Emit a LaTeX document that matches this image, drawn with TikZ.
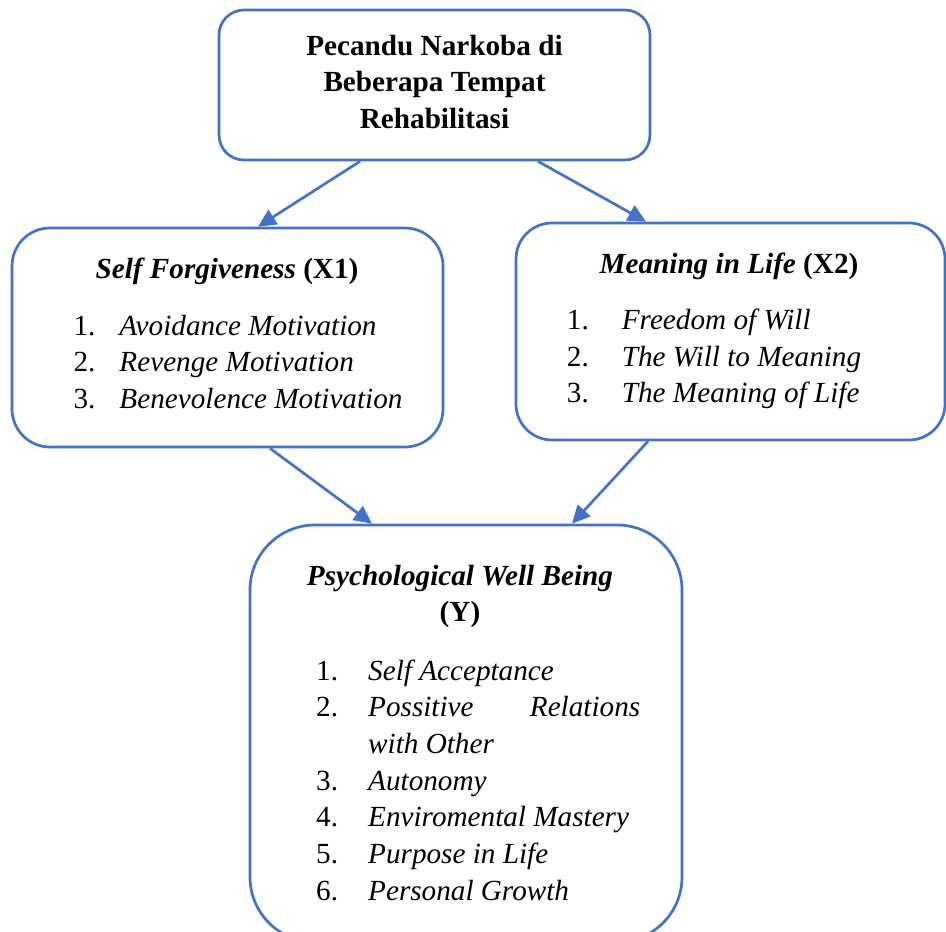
\documentclass[tikz,border=0pt]{standalone}
\usepackage{fontspec}
\setmainfont{Liberation Serif}
\usetikzlibrary{arrows.meta,positioning}
\definecolor{garisbiru}{HTML}{4472C4}

\begin{document}
\begin{tikzpicture}[x=1pt,y=1pt,
    kotak/.style={draw=garisbiru,line width=2.7pt,inner sep=0pt},
    panah/.style={draw=garisbiru,line width=2.7pt,-{Triangle[length=18pt,width=17pt]}},
    teks/.style={inner sep=0pt,font=\fontsize{29.2}{36.7}\selectfont}] %
    \useasboundingbox (0,0) rectangle (946,-932); %
    \node[kotak,minimum width=431pt,minimum height=150pt,rounded corners=25pt] (pecandu) at (434.5,-85) {} ; %
    \node[kotak,minimum width=431pt,minimum height=219pt,rounded corners=38pt] (forgive) at (227.5,-337.5) {} ; %
    \node[kotak,minimum width=429pt,minimum height=217pt,rounded corners=36pt] (meaning) at (730.5,-331.5) {} ; %
    \node[kotak,minimum width=432pt,minimum height=417pt,rounded corners=65pt] (pwb) at (466,-733.5) {} ; %
    \node[teks,anchor=base] (pecandu-teks) at (434.5,-55) {\begin{tabular}[t]{@{}c@{}}\textbf{Pecandu Narkoba di}\\ \textbf{Beberapa Tempat}\\ \textbf{Rehabilitasi}\end{tabular}} ;
    \node[teks,anchor=base] (forgive-judul) at (227,-278.3) {\textbf{\textit{Self Forgiveness}} \textbf{(X1)}} ;
    \node[teks,anchor=base west] (forgive-daftar) at (73.3,-335) {\begin{tabular}[t]{@{}p{46pt}@{}l@{}}
      1. & \textit{Avoidance Motivation}\\
      2. & \textit{Revenge Motivation}\\
      3. & \textit{Benevolence Motivation}\end{tabular}} ;
    \node[teks,anchor=base] (meaning-judul) at (729,-273.3) {\textbf{\textit{Meaning in Life}} \textbf{(X2)}} ;
    \node[teks,anchor=base west] (meaning-daftar) at (566.7,-329.3) {\begin{tabular}[t]{@{}p{55pt}@{}l@{}}
      1. & \textit{Freedom of Will}\\
      2. & \textit{The Will to Meaning}\\
      3. & \textit{The Meaning of Life}\end{tabular}} ;
    \node[teks,anchor=base] (pwb-judul) at (460,-585) {\begin{tabular}[t]{@{}c@{}}\textbf{\textit{Psychological Well Being}}\\ \textbf{(Y)}\end{tabular}} ;
    \node[teks,anchor=base west] (pwb-daftar) at (316,-680) {\begin{tabular}[t]{@{}p{52pt}@{}l@{}}
      1. & \textit{Self Acceptance}\\
      2. & \makebox[272pt][s]{\textit{Possitive} \textit{Relations}}\\
         & \textit{with Other}\\
      3. & \textit{Autonomy}\\
      4. & \textit{Enviromental Mastery}\\
      5. & \textit{Purpose in Life}\\
      6. & \textit{Personal Growth}\end{tabular}} ;
    \draw[panah] ([xshift=-74.5pt]pecandu.south) -- ([xshift=30.5pt]forgive.north) ; %
    \draw[panah] ([xshift=103.5pt]pecandu.south) -- ([xshift=-84.5pt]meaning.north) ;
    \draw[panah] ([xshift=42.5pt]forgive.south) -- ([xshift=-94pt]pwb.north) ; %
    \draw[panah] ([xshift=-82.5pt]meaning.south) -- ([xshift=106pt]pwb.north) ;
  \end{tikzpicture}
\end{document}
